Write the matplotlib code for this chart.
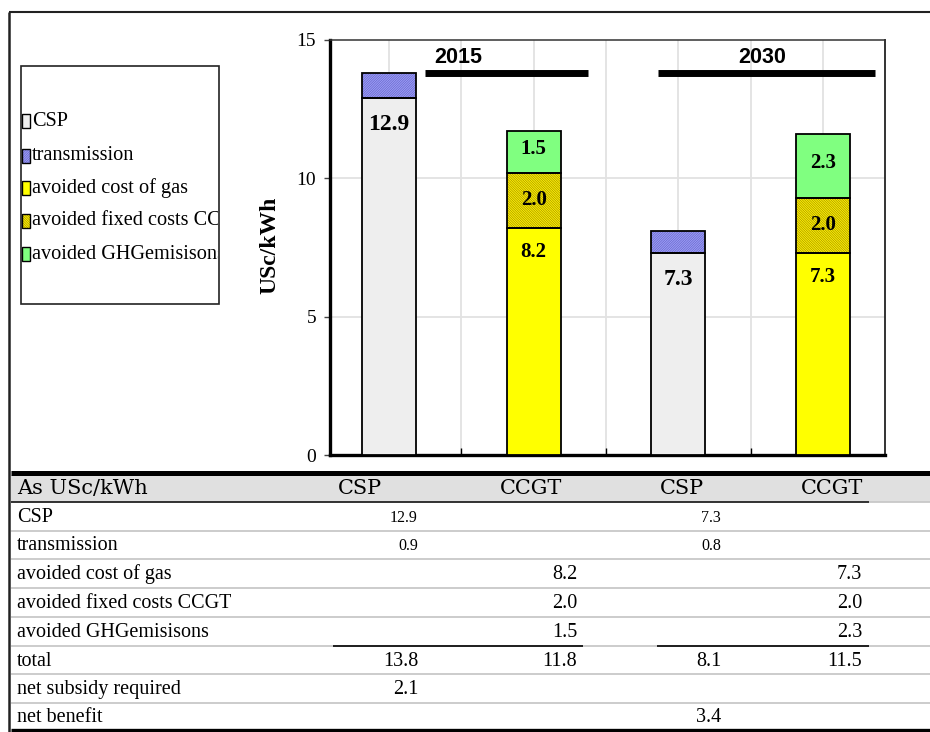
import matplotlib
matplotlib.use("Agg")
import matplotlib.pyplot as plt
from matplotlib.patches import Rectangle
from matplotlib.lines import Line2D
from matplotlib.transforms import Bbox, TransformedBbox

# ---------------- data ----------------
years = ["2015", "2030"]
technologies = ["CSP", "CCGT", "CSP", "CCGT"]
components = ["CSP", "transmission", "avoided cost of gas",
              "avoided fixed costs CCGT", "avoided GHGemisisons"]
csp_cost = [12.9, 7.3]
transmission = [0.9, 0.8]
avoided_gas = [8.2, 7.3]
avoided_fixed = [2.0, 2.0]
avoided_ghg = [1.5, 2.3]
totals = [13.8, 11.8, 8.1, 11.5]
net_subsidy = [2.1, None, None, None]
net_benefit = [None, None, 3.4, None]
y_ticks = [0, 5, 10, 15]
y_label = "USc/kWh"
table_title = "As USc/kWh"

# ---------------- styles ----------------
plt.rcParams["font.family"] = ["Liberation Serif", "DejaVu Serif"]
plt.rcParams["hatch.linewidth"] = 0.45

styles = {
    "CSP": dict(face="#eeeeee"),
    "transmission": dict(face="#9c9cf6", hatch="/" * 14, hatch_color="#6464c8"),
    "avoided cost of gas": dict(face="#ffff00"),
    "avoided fixed costs CCGT": dict(face="#fff400", hatch="\\" * 14, hatch_color="#9c8600"),
    "avoided GHGemisisons": dict(face="#80ff80"),
}

W, H = 930, 732
fig = plt.figure(figsize=(W / 100, H / 100), dpi=100)


def fx(px):
    return px / W


def fy(py):
    return 1 - py / H


def fig_line(x0, y0, x1, y1, color="black", lw=1.0):
    fig.add_artist(Line2D([fx(x0), fx(x1)], [fy(y0), fy(y1)], color=color,
                          lw=lw, solid_capstyle="butt", transform=fig.transFigure))


# ---------------- chart ----------------
ax = fig.add_axes([fx(330), fy(455), fx(885) - fx(330), fy(40) - fy(455)])
ax.set_xlim(-0.408, 3.428)
ax.set_ylim(0, 15)

for gx in [0, 0.5, 1, 1.5, 2, 2.5, 3]:
    ax.axvline(gx, color="#e2e2e2", lw=1.3, zorder=1)
for gy in y_ticks[1:-1]:
    ax.axhline(gy, color="#e2e2e2", lw=1.3, zorder=1)

bar_w = 0.373


def draw_segment(x, bottom, height, key):
    st = styles[key]
    if "hatch" in st:
        ax.bar(x, height, bar_w, bottom, color=st["face"], edgecolor=st["hatch_color"],
               hatch=st["hatch"], linewidth=0, zorder=3)
    else:
        ax.bar(x, height, bar_w, bottom, color=st["face"], linewidth=0, zorder=3)
    ax.bar(x, height, bar_w, bottom, fill=False, edgecolor="black", linewidth=1.3, zorder=4)


label_font = dict(family="Liberation Serif", weight="bold", ha="center", va="center", zorder=5)
for i, yr in enumerate(years):
    # CSP column
    xc = 2 * i
    draw_segment(xc, 0, csp_cost[i], "CSP")
    draw_segment(xc, csp_cost[i], transmission[i], "transmission")
    ax.text(xc, csp_cost[i] - 0.95, f"{csp_cost[i]:.1f}", fontsize=17, **label_font)
    # CCGT column
    xg = 2 * i + 1
    b = 0
    draw_segment(xg, b, avoided_gas[i], "avoided cost of gas")
    ax.text(xg, avoided_gas[i] - 0.85, f"{avoided_gas[i]:.1f}", fontsize=15, **label_font)
    b += avoided_gas[i]
    draw_segment(xg, b, avoided_fixed[i], "avoided fixed costs CCGT")
    ax.text(xg, b + avoided_fixed[i] / 2, f"{avoided_fixed[i]:.1f}", fontsize=15, **label_font)
    b += avoided_fixed[i]
    draw_segment(xg, b, avoided_ghg[i], "avoided GHGemisisons")
    ax.text(xg, b + avoided_ghg[i] / 2 + 0.1, f"{avoided_ghg[i]:.1f}", fontsize=15, **label_font)

# year headings with underline bars
ax.text(0.477, 14.35, years[0], fontsize=15.5, fontweight="bold", family="Liberation Sans",
        ha="center", va="center", zorder=6)
ax.plot([0.25, 1.375], [13.81, 13.81], color="black", lw=5, solid_capstyle="butt", zorder=6)
ax.text(2.578, 14.35, years[1], fontsize=15.5, fontweight="bold", family="Liberation Sans",
        ha="center", va="center", zorder=6)
ax.plot([1.861, 3.361], [13.81, 13.81], color="black", lw=5, solid_capstyle="butt", zorder=6)

ax.set_xticks([])
ax.set_xticks([0.5, 1.5, 2.5], minor=True)
ax.tick_params(axis="x", which="minor", direction="in", length=5, width=1, color="black")
ax.set_yticks(y_ticks)
ax.set_yticklabels([str(t) for t in y_ticks])
ax.tick_params(axis="y", length=4, width=1, pad=6, labelsize=14, color="#444444")
ax.spines["left"].set_linewidth(2.4)
ax.spines["bottom"].set_linewidth(2.4)
ax.spines["top"].set_color("#333333")
ax.spines["top"].set_linewidth(1.1)
ax.spines["right"].set_color("#333333")
ax.spines["right"].set_linewidth(1.4)

fig.text(fx(270), fy(245), y_label, rotation=90, ha="center", va="center",
         fontsize=17, fontweight="bold")

# ---------------- outer frame ----------------
fig_line(9, 12, 930, 12, "#222222", 1.5)
fig_line(9, 12, 9, 732, "#222222", 1.8)

# ---------------- legend ----------------
lg_x0, lg_x1, lg_y0, lg_y1 = 21, 219, 66, 304
fig.add_artist(Rectangle((fx(lg_x0), fy(lg_y1)), fx(lg_x1) - fx(lg_x0), fy(lg_y0) - fy(lg_y1),
                         fill=False, edgecolor="#222222", lw=1.2, transform=fig.transFigure))
clip = TransformedBbox(Bbox([[fx(lg_x0), fy(lg_y1)], [fx(lg_x1 - 1), fy(lg_y0)]]),
                       fig.transFigure)
legend_y = [121, 156, 188, 221, 254]
for name, ly in zip(components, legend_y):
    st = styles[name]
    rx, rw, rh = 22, 8, 14
    kw = dict(transform=fig.transFigure)
    if "hatch" in st:
        fig.add_artist(Rectangle((fx(rx), fy(ly + rh / 2)), rw / W, rh / H, facecolor=st["face"],
                                 edgecolor=st["hatch_color"], hatch=st["hatch"], lw=0, **kw))
    else:
        fig.add_artist(Rectangle((fx(rx), fy(ly + rh / 2)), rw / W, rh / H, facecolor=st["face"],
                                 lw=0, **kw))
    fig.add_artist(Rectangle((fx(rx), fy(ly + rh / 2)), rw / W, rh / H, fill=False,
                             edgecolor="black", lw=1.0, **kw))
    t = fig.text(fx(32), fy(ly), name, ha="left", va="center", fontsize=14.6)
    t.set_clip_box(clip)
    t.set_clip_on(True)

# ---------------- table ----------------
row_edges = [473, 502, 531, 559, 588, 617, 646, 674, 703, 730]
col_right = [418, 577, 721, 862]
col_head = [360, 531, 682, 832]

# header band
fig.add_artist(Rectangle((fx(11), fy(502)), fx(930) - fx(11), fy(475) - fy(502),
                         facecolor="#e0e0e0", edgecolor="none", transform=fig.transFigure))
fig_line(11, 473, 930, 473, "black", 3.6)
fig_line(11, 730, 930, 730, "black", 2.4)
fig_line(11, 502, 869, 502, "#222222", 1.3)
fig_line(869, 502, 930, 502, "#c8c8c8", 1.3)
for ye in row_edges[2:-1]:
    fig_line(11, ye, 930, ye, "#c8c8c8", 1.3)
# rule above the totals
fig_line(333, 646, 583, 646, "#111111", 1.3)
fig_line(657, 646, 869, 646, "#111111", 1.3)

head_y = (row_edges[0] + row_edges[1]) / 2 + 1
fig.text(fx(17), fy(head_y), table_title, ha="left", va="center", fontsize=15,
         family="DejaVu Serif")
for tech, cx in zip(technologies, col_head):
    fig.text(fx(cx), fy(head_y), tech, ha="center", va="center", fontsize=15,
             family="DejaVu Serif")

row_labels = components + ["total", "net subsidy required", "net benefit"]
row_values = [
    [csp_cost[0], None, csp_cost[1], None],
    [transmission[0], None, transmission[1], None],
    [None, avoided_gas[0], None, avoided_gas[1]],
    [None, avoided_fixed[0], None, avoided_fixed[1]],
    [None, avoided_ghg[0], None, avoided_ghg[1]],
    totals,
    net_subsidy,
    net_benefit,
]
small_rows = {0, 1}
for r, (lab, vals) in enumerate(zip(row_labels, row_values)):
    cy = (row_edges[r + 1] + row_edges[r + 2]) / 2 + 1
    fig.text(fx(17), fy(cy), lab, ha="left", va="center", fontsize=14.5)
    for c, v in enumerate(vals):
        if v is None:
            continue
        fs = 11.5 if r in small_rows else 14.5
        fig.text(fx(col_right[c]), fy(cy), f"{v:.1f}", ha="right", va="center", fontsize=fs)

fig.savefig("out.png", dpi=100)
